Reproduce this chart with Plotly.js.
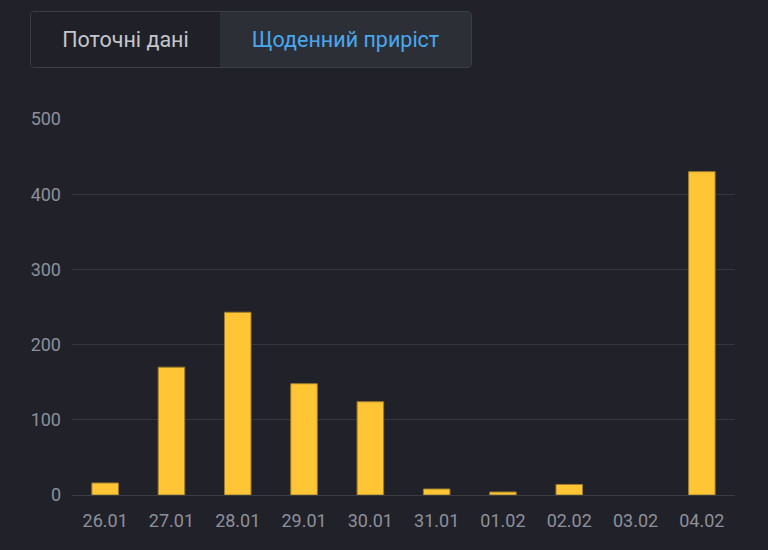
<!DOCTYPE html>
<html>
<head>
<meta charset="utf-8">
<script src="https://cdn.plot.ly/plotly-3.0.1.min.js"></script>
<style>
  html, body { margin: 0; padding: 0; background: #212229; }
  #wrap { position: relative; width: 768px; height: 550px; }
  #toggle {
    position: absolute; left: 30px; top: 11px; width: 440px; height: 55px;
    border: 1px solid #3c3e46; border-radius: 4px; overflow: hidden;
    display: flex; font-family: Roboto, sans-serif; font-size: 21.5px;
  }
  #toggle div { display: flex; align-items: center; justify-content: center; }
  #btnCur { width: 189px; background: #202128; color: #c4c6cc; }
  #btnDay { flex: 1; background: #2d2f37; color: #48a8ee; }
  #chart { position: absolute; left: 0; top: 0; width: 768px; height: 550px; }
</style>
</head>
<body>
<div id="wrap">
  <div id="chart"></div>
  <div id="toggle">
    <div id="btnCur">Поточні дані</div>
    <div id="btnDay">Щоденний приріст</div>
  </div>
</div>
<script>
// daily increase per day
var days = ["26.01", "27.01", "28.01", "29.01", "30.01", "31.01", "01.02", "02.02", "03.02", "04.02"];
var daily = [16, 170, 243, 148, 124, 8, 4, 14, 0, 430];
var yTicks = [0, 100, 200, 300, 400, 500];

var trace = {
	x: days,
	y: daily,
	type: 'bar',
	marker: {
		color: '#ffc535',
		// no outline on empty days
		line: { color: '#9c7b2c', width: daily.map(function (v) { return v > 0 ? 1 : 0; }) }
	},
	hoverinfo: 'none'
};

var layout = {
	width: 768,
	height: 550,
	margin: { l: 72, r: 33, t: 119, b: 55 },
	paper_bgcolor: '#212229',
	plot_bgcolor: '#212229',
	bargap: 0.6,
	showlegend: false,
	font: { family: 'Roboto, sans-serif', size: 18, color: '#8d909b' },
	xaxis: {
		type: 'category',
		showgrid: false,
		zeroline: false,
		showline: false,
		ticks: '',
		ticklabelstandoff: 13,
		tickfont: { size: 18, color: '#8d909b' }
	},
	yaxis: {
		range: [0, 500],
		tickvals: yTicks,
		ticktext: yTicks.map(String),
		gridcolor: '#35373e',
		gridwidth: 1,
		zeroline: true,
		zerolinecolor: '#3a3c43',
		zerolinewidth: 1,
		showline: false,
		ticks: '',
		ticklabelstandoff: 10,
		tickfont: { size: 18, color: '#8d909b' }
	}
};

Plotly.newPlot('chart', [trace], layout, { displayModeBar: false, staticPlot: true });
</script>
</body>
</html>
